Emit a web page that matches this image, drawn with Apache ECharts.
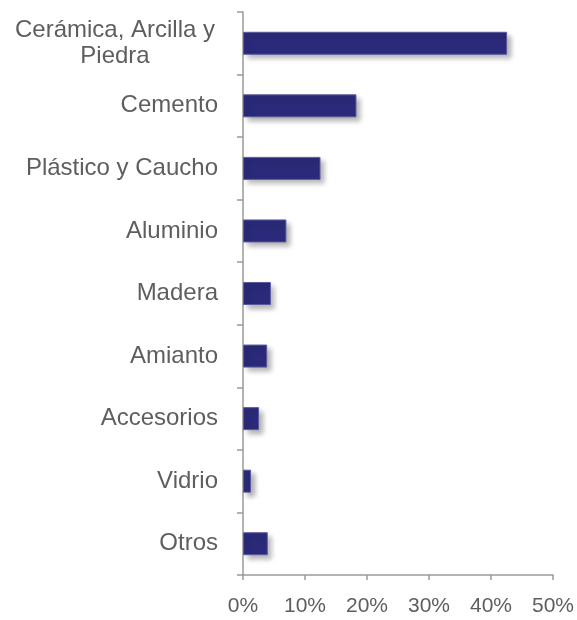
<!DOCTYPE html>
<html>
<head>
<meta charset="utf-8">
<script src="https://cdn.jsdelivr.net/npm/echarts@6/dist/echarts.min.js"></script>
<style>html,body{margin:0;padding:0;background:#fff}#c{width:577px;height:620px}</style>
</head>
<body>
<div id="c"></div>
<script>
const categories = ["Cerámica, Arcilla y\nPiedra", "Cemento", "Plástico y Caucho", "Aluminio", "Madera", "Amianto", "Accesorios", "Vidrio", "Otros"];
const values = [42.6, 18.3, 12.5, 7.0, 4.5, 3.9, 2.6, 1.3, 4.0];
const xTicks = [0, 10, 20, 30, 40, 50];

const FONT = 'Liberation Sans, Arial, sans-serif';
const chart = echarts.init(document.getElementById('c'));
chart.setOption({
  animation: false,
  grid: { left: 243, right: 23, top: 12, bottom: 45, containLabel: false },
  xAxis: {
    type: 'value', min: 0, max: 50, interval: 10,
    axisLine: { show: true, lineStyle: { color: '#9a9a9a', width: 1.5 } },
    axisTick: { show: true, length: 5, lineStyle: { color: '#9a9a9a', width: 1.5 } },
    splitLine: { show: false },
    axisLabel: {
      margin: 21, fontSize: 21, color: '#5e5e5e', fontFamily: FONT,
      formatter: v => xTicks.includes(v) ? v + '%' : ''
    }
  },
  yAxis: {
    type: 'category', data: categories, inverse: true,
    axisLine: { show: true, lineStyle: { color: '#9a9a9a', width: 1.5 } },
    axisTick: { show: true, length: 6, lineStyle: { color: '#9a9a9a', width: 1.5 } },
    axisLabel: {
      margin: 25, fontSize: 24, lineHeight: 26, color: '#5e5e5e', fontFamily: FONT,
      formatter: function (v) {
        if (v.indexOf('\n') >= 0) {
          return v.split('\n').map(s => '{c|' + s + '}').join('\n');
        }
        return v;
      },
      rich: { c: { width: 206, align: 'center', fontSize: 24, lineHeight: 26, color: '#5e5e5e', fontFamily: FONT } }
    }
  },
  series: [{
    type: 'bar', data: values, barWidth: 23,
    itemStyle: {
      color: '#2b2a7a', borderColor: '#5a5aa0', borderWidth: 1,
      shadowColor: 'rgba(0,0,0,0.3)', shadowBlur: 5, shadowOffsetX: 4, shadowOffsetY: 4
    }
  }]
});
</script>
</body>
</html>
